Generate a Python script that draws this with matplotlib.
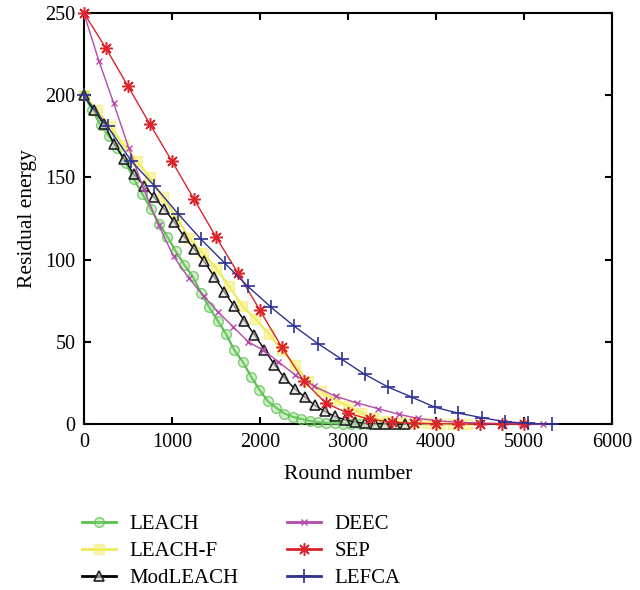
import matplotlib
matplotlib.use("Agg")
import matplotlib.pyplot as plt

plt.rcParams['font.family'] = ['Liberation Serif', 'DejaVu Serif']

# ---- data ----
leach_r = [0, 95, 190, 285, 380, 475, 570, 665, 760, 855, 950, 1045, 1140, 1235, 1330, 1425, 1520, 1615, 1710, 1805,
           1900, 1995, 2090, 2185, 2280, 2375, 2470, 2565, 2660, 2755, 2850, 2945, 3040, 3135, 3230, 3325, 3420]
leach_e = [200, 191, 182, 175, 168, 159, 149, 140, 131, 122, 114, 105, 97, 90, 80, 71, 63, 55, 45, 38,
           29, 21, 14, 10, 6.5, 4.5, 3.2, 2, 1.3, 0.9, 0.6, 0.4, 0.3, 0.2, 0.1, 0.05, 0]

leachf_r = [0, 150, 300, 450, 600, 750, 900, 1050, 1200, 1350, 1500, 1650, 1800, 1950, 2100, 2250, 2400, 2550, 2700, 2850,
            3000, 3150, 3300, 3450, 3600, 3750, 3900, 4050, 4200, 4350]
leachf_e = [200, 191, 181, 170, 160, 150, 138, 126, 113, 104, 95, 84, 72, 64, 55, 45, 36, 26, 20, 15,
            11, 6.7, 3.5, 2, 1.3, 0.8, 0.5, 0.3, 0.1, 0]

mod_r = [0, 114, 228, 342, 456, 570, 684, 798, 912, 1026, 1140, 1254, 1368, 1482, 1596, 1710, 1824, 1938, 2052, 2166,
         2280, 2394, 2508, 2622, 2736, 2850, 2964, 3078, 3192, 3306, 3420, 3534, 3648]
mod_e = [200, 190.8, 182.6, 170.5, 161.5, 152, 145, 138, 131, 123, 114, 106.5, 99, 89.6, 80.4, 71.7, 63, 54.5, 45.4, 36.2,
         28.2, 21.6, 16.7, 11.5, 7.9, 4.8, 2.8, 1.3, 0.6, 0.4, 0.25, 0.1, 0]

deec_r = [0, 170, 340, 510, 680, 850, 1020, 1190, 1360, 1530, 1700, 1870, 2040, 2210, 2400, 2620, 2860, 3100, 3340, 3580,
          3800, 4030, 4260, 4500, 4740, 4980, 5220]
deec_e = [250, 221, 195, 168, 143, 121, 102, 89, 78, 68, 59, 50, 45, 38, 30, 23, 17, 13, 9.5, 6,
          3.5, 2, 1.2, 0.7, 0.4, 0.2, 0]

sep_r = [0, 250, 500, 750, 1000, 1250, 1500, 1750, 2000, 2250, 2500, 2750, 3000, 3250, 3500, 3750, 4000, 4250, 4500, 4750, 5000]
sep_e = [250, 228.7, 205.6, 182.5, 160, 137, 114, 92, 69.3, 46.8, 26.2, 12.8, 6.7, 3, 1.2, 0.6, 0.3, 0.2, 0.1, 0.05, 0]

lefca_r = [0, 270, 540, 800, 1070, 1330, 1600, 1860, 2130, 2390, 2660, 2930, 3190, 3460, 3730, 3990, 4250, 4520, 4790, 5050, 5320]
lefca_e = [200, 181, 160, 145, 128, 112.5, 98, 84, 71, 59.6, 49, 39.5, 30.4, 22.5, 16.4, 10.3, 6.8, 4, 1.5, 0.5, 0]

x_ticks = [0, 1000, 2000, 3000, 4000, 5000, 6000]
y_ticks = [0, 50, 100, 150, 200, 250]

# ---- figure ----
fig = plt.figure(figsize=(6.4, 5.9), dpi=100)
ax = fig.add_axes([0.131, 0.281, 0.825, 0.697])

green = '#5cbf4f'
yellow = '#eeea55'
magenta = '#b44aab'
red = '#d9252b'
blue = '#2e3192'

ax.plot(leach_r, leach_e, color=green, lw=1.6, marker='o', ms=7, mfc=(0.55, 0.85, 0.5, 0.4),
        mec=(0.36, 0.75, 0.31, 0.75), mew=1.0, label='LEACH', clip_on=False, zorder=3)
ax.plot(leachf_r, leachf_e, color=yellow, lw=1.6, marker='s', ms=7.5, mfc=(0.96, 0.94, 0.45, 0.55),
        mec=(0.94, 0.92, 0.4, 0.55), mew=1.0, label='LEACH-F', clip_on=False, zorder=3)
ax.plot(mod_r, mod_e, color='black', lw=1.0, marker='^', ms=7.5, mfc=(0.85, 0.85, 0.85, 0.6),
        mec='#222222', mew=1.2, label='ModLEACH', clip_on=False, zorder=4)
ax.plot(deec_r, deec_e, color=magenta, lw=1.0, marker='x', ms=5, mew=1.0,
        label='DEEC', clip_on=False, zorder=4)
ax.plot(sep_r, sep_e, color=red, lw=1.0, marker=(8, 2, 0), ms=9, mew=1.1,
        label='SEP', clip_on=False, zorder=5)
ax.plot(lefca_r, lefca_e, color=blue, lw=1.0, marker='+', ms=10, mew=1.2,
        label='LEFCA', clip_on=False, zorder=5)

ax.set_xlim(0, 6000)
ax.set_ylim(0, 250)
ax.set_xticks(x_ticks)
ax.set_yticks(y_ticks)
ax.tick_params(direction='in', top=True, right=True, length=5, width=1.5, labelsize=14.5, pad=6)
for s in ax.spines.values():
    s.set_linewidth(1.5)
ax.set_xlabel('Round number', fontsize=15.5, labelpad=10)
ax.set_ylabel('Residual energy', fontsize=15.5, labelpad=6)

leg = fig.legend(loc='upper left', bbox_to_anchor=(0.128, 0.128), ncol=2, frameon=False,
                 fontsize=15, handlelength=1.63, handletextpad=0.67, columnspacing=2.3,
                 labelspacing=0.35, markerscale=1.0, borderpad=0, borderaxespad=0)
for h in leg.legend_handles:
    h.set_linewidth(2.0)

fig.savefig('out.png', dpi=100)
